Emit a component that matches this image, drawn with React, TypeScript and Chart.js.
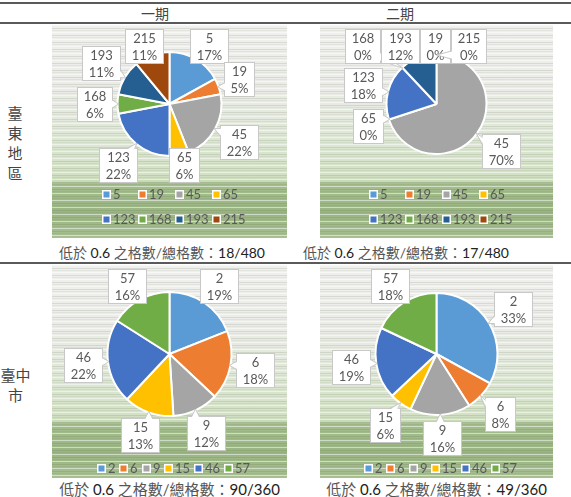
import React, { useEffect, useRef } from 'react';
import { Chart, registerables } from 'chart.js';

Chart.register(...registerables);

// ---------------- data ----------------
const headers = ['一期', '二期'];
const rowLabels = ['臺東地區', '臺中市'];
const taitungCategories = ['5', '19', '45', '65', '123', '168', '193', '215'];
const taitungPhase1 = [17, 5, 22, 6, 22, 6, 11, 11];
const taitungPhase2 = [0, 0, 70, 0, 18, 0, 12, 0];
const taichungCategories = ['2', '6', '9', '15', '46', '57'];
const taichungPhase1 = [19, 18, 12, 13, 22, 16];
const taichungPhase2 = [33, 8, 16, 6, 19, 18];
const captionLead = '低於 ';
const captionThreshold = '0.6';
const captionMid = ' 之格數/總格數：';
const ratios = ['18/480', '17/480', '90/360', '49/360'];
const hiddenCallouts: string[][] = [[], ['5'], [], []];
const palette = ['#5B9BD5', '#ED7D31', '#A5A5A5', '#FFC000', '#4472C4', '#70AD47', '#255E91', '#9E480E'];

// ---------------- styling ----------------
const FONT = '13px Lato, "Liberation Sans", sans-serif';
const TEXT = '#595959';
const BG = [
  'repeating-linear-gradient(180deg, rgba(255,255,255,0.5) 0px, rgba(255,255,255,0.5) 1px, rgba(255,255,255,0) 1px, rgba(255,255,255,0) 3px, rgba(60,80,40,0.13) 3px, rgba(60,80,40,0.13) 4px, rgba(255,255,255,0) 4px, rgba(255,255,255,0) 5px, rgba(60,80,40,0.07) 5px, rgba(60,80,40,0.07) 6px, rgba(255,255,255,0) 6px, rgba(255,255,255,0) 7px)',
  'linear-gradient(180deg, #f0f0ee 0%, #ebece8 30%, #e0e8d8 50%, #d3e1c5 70%, #c8d9b7 73.5%, #a4bd8d 74.5%, #9ab583 88%, #a7bf91 100%)',
].join(', ');

function legendLayout(ctx: CanvasRenderingContext2D, labels: string[], W: number, H: number, bottom: number) {
  ctx.save();
  ctx.font = FONT;
  const gap = 3, pad = 4, gridPad = 3, box = 8;
  const items = labels.map((l) => ({ l, w: box + gap + ctx.measureText(l).width }));
  ctx.restore();
  const natural = items.reduce((s, it) => s + it.w + pad, 0) - pad;
  const avail = 175;
  const cx = W / 2 + 4;
  const out: { x: number; y: number; l: string; i: number }[] = [];
  if (natural <= avail) {
    let x = cx - natural / 2;
    items.forEach((it, i) => {
      out.push({ x, y: H - bottom, l: it.l, i });
      x += it.w + pad;
    });
  } else {
    const rows = Math.ceil(natural / avail);
    const cols = Math.ceil(items.length / rows);
    const colW = Math.max(...items.map((it) => it.w)) + gridPad;
    const x0 = cx - (cols * colW - gridPad) / 2;
    items.forEach((it, i) => {
      const c = i % cols, r = Math.floor(i / cols);
      out.push({ x: x0 + c * colW, y: H - bottom - (rows - 1 - r) * 25, l: it.l, i });
    });
  }
  const top = Math.min(...out.map((o) => o.y)) - 8;
  return { items: out, top };
}

const gridLegendPlugin = {
  id: 'gridLegend',
  afterDraw(chart: any, _args: any, opts: any) {
    const ctx: CanvasRenderingContext2D = chart.ctx;
    const labels = chart.data.labels as string[];
    const colors = chart.data.datasets[0].backgroundColor as string[];
    const lay = legendLayout(ctx, labels, chart.width, chart.height, opts.bottom);
    ctx.save();
    ctx.font = FONT;
    ctx.textBaseline = 'middle';
    ctx.textAlign = 'left';
    lay.items.forEach((it) => {
      const bx = Math.round(it.x), by = Math.round(it.y - 4.5);
      ctx.fillStyle = '#ffffff';
      ctx.fillRect(bx, by, 9, 9);
      ctx.fillStyle = colors[it.i];
      ctx.fillRect(bx + 1.5, by + 1.5, 6, 6);
      ctx.fillStyle = TEXT;
      ctx.fillText(it.l, bx + 11, it.y + 0.5);
    });
    ctx.restore();
  },
};

const calloutPlugin = {
  id: 'callouts',
  afterDatasetsDraw(chart: any, _args: any, opts: any) {
    const ctx: CanvasRenderingContext2D = chart.ctx;
    const meta = chart.getDatasetMeta(0);
    const data = chart.data.datasets[0].data as number[];
    const labels = chart.data.labels as string[];
    const total = data.reduce((a, b) => a + b, 0);
    const hidden: string[] = opts.hidden || [];
    const gap = 6;
    const W = chart.width;
    const lay = legendLayout(ctx, labels, chart.width, chart.height, opts.legendBottom);
    const maxY = lay.top - 4;
    ctx.save();
    ctx.font = FONT;
    const boxes: any[] = [];
    meta.data.forEach((arc: any, i: number) => {
      if (hidden.includes(labels[i])) return;
      const p = arc.getProps(['x', 'y', 'startAngle', 'endAngle', 'outerRadius'], true);
      const mid = (p.startAngle + p.endAngle) / 2;
      const dx = Math.cos(mid), dy = Math.sin(mid);
      const lines = [labels[i], Math.round((data[i] / total) * 100) + '%'];
      const w = Math.ceil(Math.max(...lines.map((l) => ctx.measureText(l).width)) + 12);
      const h = 34;
      const ex = Math.abs(dx) > 1e-6 ? w / 2 / Math.abs(dx) : Infinity;
      const ey = Math.abs(dy) > 1e-6 ? h / 2 / Math.abs(dy) : Infinity;
      const d = p.outerRadius + gap + Math.min(ex, ey);
      const x = p.x + dx * d, y = p.y + dy * d;
      boxes.push({
        x, y, w, h, lines, kx: x + i * 0.001, ky: y + i * 0.001,
        tx: p.x + dx * (p.outerRadius - 1), ty: p.y + dy * (p.outerRadius - 1),
      });
    });
    for (let it = 0; it < 300; it++) {
      let moved = false;
      for (let a = 0; a < boxes.length; a++) {
        for (let b = a + 1; b < boxes.length; b++) {
          const A = boxes[a], B = boxes[b];
          const ddx = B.x - A.x, ddy = B.y - A.y;
          const ox = (A.w + B.w) / 2 + 1 - Math.abs(ddx);
          const oy = (A.h + B.h) / 2 + 1 - Math.abs(ddy);
          if (ox > 0.01 && oy > 0.01) {
            moved = true;
            if (ox <= oy) {
              const s = B.kx >= A.kx ? 1 : -1;
              const need = (A.w + B.w) / 2 + 1 - s * ddx;
              A.x -= (s * need) / 2; B.x += (s * need) / 2;
            } else {
              const s = B.ky >= A.ky ? 1 : -1;
              const need = (A.h + B.h) / 2 + 1 - s * ddy;
              A.y -= (s * need) / 2; B.y += (s * need) / 2;
            }
          }
        }
      }
      boxes.forEach((B) => {
        B.x = Math.min(Math.max(B.x, B.w / 2 + 3), W - B.w / 2 - 3);
        B.y = Math.min(Math.max(B.y, B.h / 2 + 4), maxY - B.h / 2);
      });
      if (!moved) break;
    }
    boxes.forEach((B) => {
      const L = Math.round(B.x - B.w / 2) + 0.5, T = Math.round(B.y - B.h / 2) + 0.5;
      ctx.fillStyle = '#ffffff';
      ctx.strokeStyle = '#c8c8c8';
      ctx.lineWidth = 1;
      ctx.fillRect(L, T, B.w, B.h);
      ctx.strokeRect(L, T, B.w, B.h);
      const hw = B.w / 2, hh = B.h / 2;
      const cxb = L + hw, cyb = T + hh;
      const vx = B.tx - cxb, vy = B.ty - cyb;
      if (Math.abs(vx) > hw + 3 || Math.abs(vy) > hh + 3) {
        let p1: number[], p2: number[], q1: number[], q2: number[];
        if (Math.abs(vx) / hw > Math.abs(vy) / hh) {
          const s = Math.sign(vx);
          const sx = cxb + s * hw;
          const cy = Math.min(Math.max(B.ty, T + 7), T + B.h - 7);
          p1 = [sx - s * 1.5, cy - 4]; p2 = [sx - s * 1.5, cy + 4];
          q1 = [sx, cy - 4]; q2 = [sx, cy + 4];
        } else {
          const s = Math.sign(vy);
          const sy = cyb + s * hh;
          const cx = Math.min(Math.max(B.tx, L + 7), L + B.w - 7);
          p1 = [cx - 4, sy - s * 1.5]; p2 = [cx + 4, sy - s * 1.5];
          q1 = [cx - 4, sy]; q2 = [cx + 4, sy];
        }
        ctx.beginPath();
        ctx.moveTo(p1[0], p1[1]);
        ctx.lineTo(B.tx, B.ty);
        ctx.lineTo(p2[0], p2[1]);
        ctx.closePath();
        ctx.fill();
        ctx.beginPath();
        ctx.moveTo(q1[0], q1[1]);
        ctx.lineTo(B.tx, B.ty);
        ctx.lineTo(q2[0], q2[1]);
        ctx.stroke();
      }
      ctx.fillStyle = TEXT;
      ctx.textAlign = 'center';
      ctx.textBaseline = 'middle';
      ctx.fillText(B.lines[0], cxb, T + 9);
      ctx.fillText(B.lines[1], cxb, T + 26);
    });
    ctx.restore();
  },
};

type PieProps = {
  left: number; top: number; width: number; height: number;
  labels: string[]; values: number[]; hidden: string[];
  padding: { top: number; bottom: number; left: number; right: number };
  legendBottom: number;
};

function PieBox(props: PieProps) {
  const ref = useRef<HTMLCanvasElement>(null);
  useEffect(() => {
    const chart = new Chart(ref.current as HTMLCanvasElement, {
      type: 'pie',
      data: {
        labels: props.labels,
        datasets: [{
          data: props.values,
          backgroundColor: palette.slice(0, props.labels.length),
          borderColor: '#ffffff',
          borderWidth: 2,
        }],
      },
      options: {
        responsive: false,
        animation: false,
        layout: { padding: props.padding },
        plugins: {
          legend: { display: false },
          tooltip: { enabled: false },
          // @ts-ignore
          callouts: { hidden: props.hidden, legendBottom: props.legendBottom },
          // @ts-ignore
          gridLegend: { bottom: props.legendBottom },
        },
      },
      plugins: [calloutPlugin as any, gridLegendPlugin as any],
    });
    return () => chart.destroy();
  }, []);
  return (
    <div style={{ position: 'absolute', left: props.left, top: props.top, width: props.width, height: props.height, background: BG }}>
      <canvas ref={ref} width={props.width} height={props.height} style={{ display: 'block' }} />
    </div>
  );
}

function Caption({ text, style }: { text: string; style: React.CSSProperties }) {
  return (
    <div style={{ position: 'absolute', whiteSpace: 'nowrap', color: '#555', fontFamily: 'Lato, "Noto Sans CJK TC", sans-serif', ...style }}>
      {captionLead}
      <span style={{ color: '#222' }}>{captionThreshold}</span>
      {captionMid}
      <span style={{ color: '#222' }}>{text}</span>
    </div>
  );
}

const line = (top: number): React.CSSProperties => ({ position: 'absolute', left: 0, top, width: 571, height: 2, background: '#5a5a5a' });

export default function App() {
  const cjk = '"Noto Sans CJK TC", sans-serif';
  return (
    <div style={{ position: 'absolute', left: 0, top: 0, width: 571, height: 497, overflow: 'hidden', background: '#fff', fontFamily: cjk, color: '#444' }}>
      <div style={line(2)} />
      <div style={{ position: 'absolute', left: 105, width: 100, top: 4, height: 18, lineHeight: '18px', textAlign: 'center', fontSize: 14 }}>{headers[0]}</div>
      <div style={{ position: 'absolute', left: 350, width: 100, top: 4, height: 18, lineHeight: '18px', textAlign: 'center', fontSize: 14 }}>{headers[1]}</div>
      <div style={{ ...line(22), height: 1.5 }} />
      <div style={{ ...line(262), height: 1.5 }} />

      <div style={{ position: 'absolute', left: 7, width: 16, top: 103, fontSize: 15, lineHeight: '20px', textAlign: 'center' }}>{rowLabels[0]}</div>
      <div style={{ position: 'absolute', left: 0, width: 31, top: 365, fontSize: 15, lineHeight: '20px', textAlign: 'center' }}>{rowLabels[1]}</div>

      <PieBox left={52} top={25} width={235} height={213} labels={taitungCategories} values={taitungPhase1} hidden={hiddenCallouts[0]}
        padding={{ top: 26, bottom: 81, left: 40, right: 40 }} legendBottom={19} />
      <PieBox left={320} top={25} width={233} height={213} labels={taitungCategories} values={taitungPhase2} hidden={hiddenCallouts[1]}
        padding={{ top: 28, bottom: 83, left: 40, right: 40 }} legendBottom={19} />
      <PieBox left={52} top={265} width={235} height={213} labels={taichungCategories} values={taichungPhase1} hidden={hiddenCallouts[2]}
        padding={{ top: 26, bottom: 61, left: 40, right: 40 }} legendBottom={10} />
      <PieBox left={320} top={265} width={233} height={213} labels={taichungCategories} values={taichungPhase2} hidden={hiddenCallouts[3]}
        padding={{ top: 27, bottom: 62, left: 40, right: 40 }} legendBottom={10} />

      <Caption text={ratios[0]} style={{ left: 59, top: 243, fontSize: 14, lineHeight: '20px' }} />
      <Caption text={ratios[1]} style={{ left: 303, top: 243, fontSize: 14, lineHeight: '20px' }} />
      <Caption text={ratios[2]} style={{ left: 52, width: 235, textAlign: 'center', top: 479, fontSize: 15, lineHeight: '20px' }} />
      <Caption text={ratios[3]} style={{ left: 320, width: 233, textAlign: 'center', top: 479, fontSize: 15, lineHeight: '20px' }} />
    </div>
  );
}
